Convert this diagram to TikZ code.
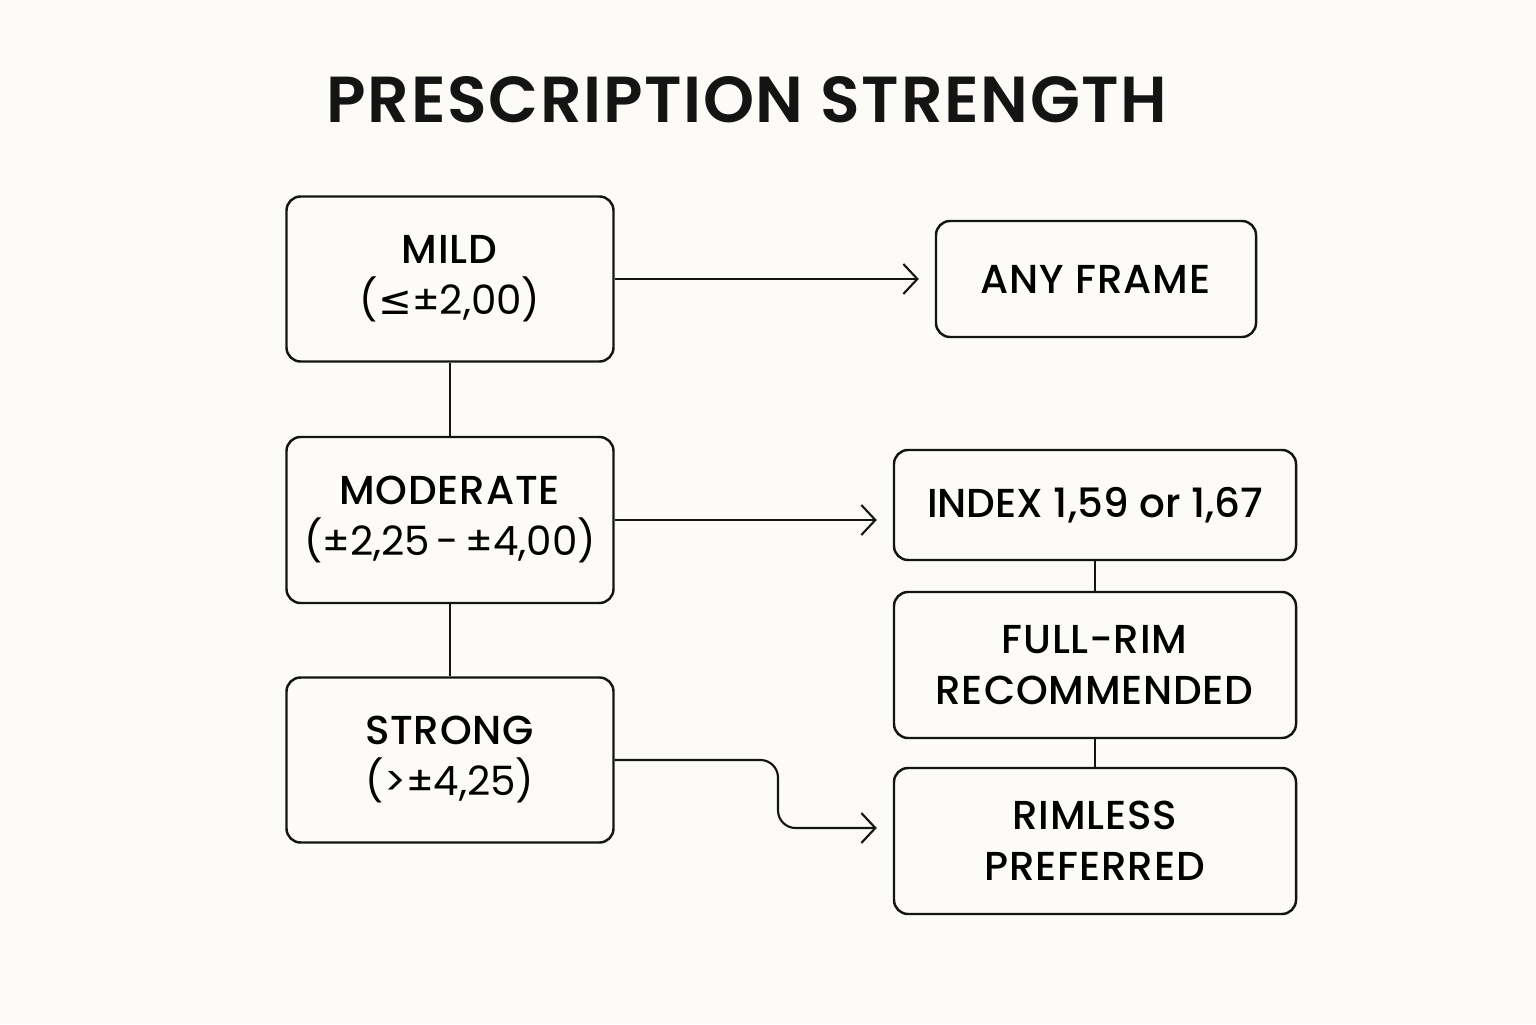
\documentclass[tikz,border=0pt]{standalone}
\usepackage{fontspec}
\setmainfont{Poppins}[BoldFont={Poppins Medium}, BoldFeatures={LetterSpace=2}]
\newfontfamily\symfont{DejaVu Sans}
\newfontfamily\medfont{Poppins Medium}
\newfontfamily\titlefont{Poppins SemiBold}[LetterSpace=2.5]
\usepackage{xcolor}
\usepackage{tikz}
\usetikzlibrary{
    positioning,
    arrows.meta,
    calc
}
\definecolor{paperWhite}{RGB}{252, 251, 247}
\definecolor{inkBlack}{RGB}{20, 20, 20}

\tikzset{
    stepbox/.style={draw=inkBlack, line width=0.7pt, rounded corners=4pt,
        align=center, inner sep=0pt, font=\fontsize{11.5}{14.5}\selectfont},
    link/.style={draw=inkBlack, line width=0.6pt}
}

\begin{document}
\begin{tikzpicture}[>={Straight Barb[length=1.4mm,width=3mm]}]
            \fill[paperWhite] (0,0) rectangle (15.36,10.24);
            \useasboundingbox (0,0) rectangle (15.36,10.24);

            \node[font=\fontsize{18.5}{24}\titlefont, text=inkBlack] (title) at (7.47,9.24) {PRESCRIPTION STRENGTH};

            % left column
            \node[stepbox, minimum width=3.27cm, minimum height=1.65cm] (mild) at (4.50,7.45)
                {\textbf{MILD}\\({\symfont≤}±2,00)};
            \node[stepbox, minimum width=3.27cm, minimum height=1.66cm] (moderate) at (4.50,5.04)
                {\textbf{MODERATE}\\(±2,25\,-\,±4,00)};
            \node[stepbox, minimum width=3.27cm, minimum height=1.65cm] (strong) at (4.50,2.64)
                {\textbf{STRONG}\\(>±4,25)};

            % right column
            \node[stepbox, minimum width=3.20cm, minimum height=1.16cm] (anyframe) at (10.96,7.45)
                {\textbf{ANY FRAME}};
            \node[stepbox, minimum width=4.02cm, minimum height=1.10cm] (index) at (10.95,5.19)
                {\medfont INDEX 1,59 or 1,67};
            \node[stepbox, minimum width=4.02cm, minimum height=1.46cm] (fullrim) at (10.95,3.59)
                {\textbf{FULL-RIM}\\\textbf{RECOMMENDED}};
            \node[stepbox, minimum width=4.02cm, minimum height=1.46cm] (rimless) at (10.95,1.83)
                {\textbf{RIMLESS}\\\textbf{PREFERRED}};

            \coordinate (rimlessIn) at ($(rimless.west)+(0,0.13)$);
            \coordinate (bend) at (7.78,1.96);

            % vertical links
            \draw[link] (mild) -- (moderate);
            \draw[link] (moderate) -- (strong);
            \draw[link] (index) -- (fullrim);
            \draw[link] (fullrim) -- (rimless);

            % arrows
            \draw[link, ->, shorten >=0.16cm] (mild.east) -- (anyframe.west);
            \draw[link, ->, shorten >=0.16cm] (moderate.east) -- (moderate.east -| index.west);
            \draw[link, ->, shorten >=0.16cm, rounded corners=5pt] (strong.east) -| (bend) -- (rimlessIn);
        \end{tikzpicture}
\end{document}
